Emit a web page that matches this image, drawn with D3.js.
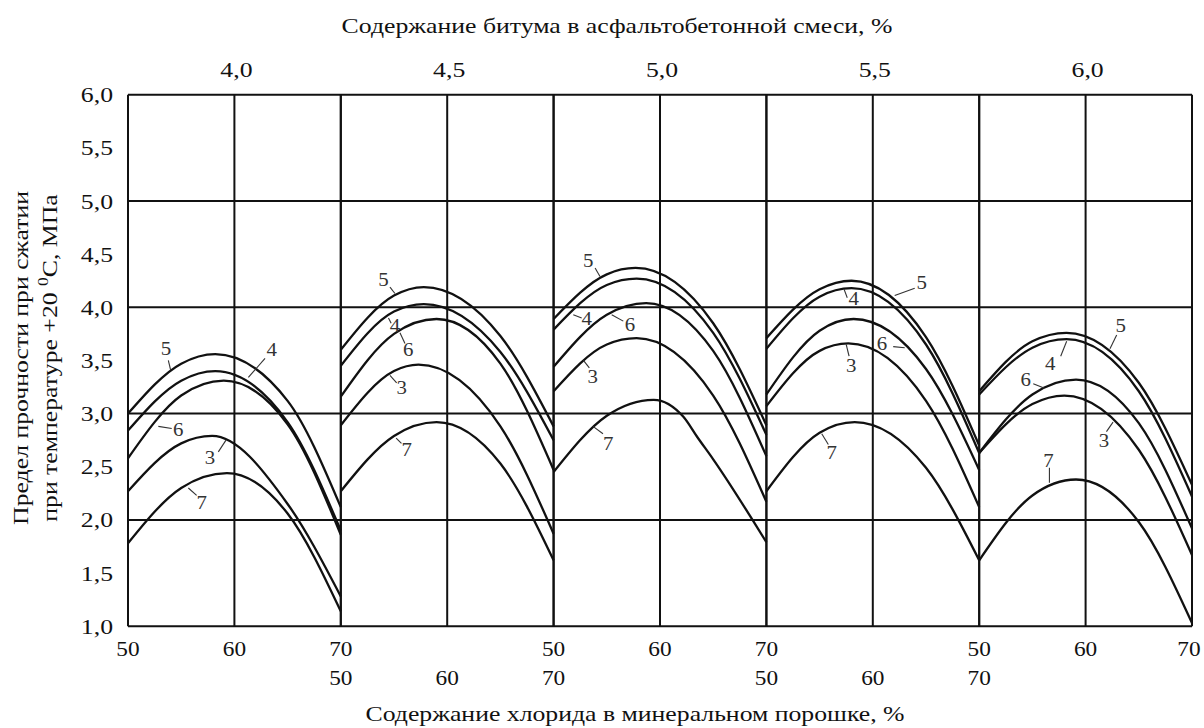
<!DOCTYPE html>
<html><head><meta charset="utf-8">
<script src="https://cdn.jsdelivr.net/npm/d3@7"></script>
<style>body{margin:0;background:#fff}svg{display:block}</style>
</head><body>
<svg id="chart" width="1204" height="728"></svg>
<script>
// ---------- data ----------
const bitumenLevels = ["4,0", "4,5", "5,0", "5,5", "6,0"];
const chlorideTicks = [50, 60, 70];
const strengthTicks = [1.0, 1.5, 2.0, 2.5, 3.0, 3.5, 4.0, 4.5, 5.0, 5.5, 6.0];
const strengthGrid = [1, 2, 3, 4, 5, 6];
const curveIds = ["5", "4", "6", "3", "7"];

// [chloride %, strength MPa]
const panel40 = {
  "5": [[50, 3.00], [55, 3.47], [58.2, 3.56], [65, 3.12], [70, 2.12]],
  "4": [[50, 2.84], [55, 3.31], [58.2, 3.40], [65, 2.92], [70, 1.90]],
  "6": [[50, 2.58], [55, 3.17], [59.0, 3.31], [65, 2.90], [70, 1.86]],
  "3": [[50, 2.27], [55, 2.72], [57.9, 2.79], [65, 2.15], [70, 1.28]],
  "7": [[50, 1.78], [55, 2.30], [59.3, 2.44], [65, 2.06], [70, 1.14]]
};
const panel45 = {
  "5": [[50, 3.60], [55, 4.11], [57.8, 4.19], [65, 3.73], [70, 2.88]],
  "4": [[50, 3.45], [55, 3.96], [57.8, 4.03], [65, 3.58], [70, 2.75]],
  "6": [[50, 3.16], [55, 3.75], [59.0, 3.89], [65, 3.47], [70, 2.47]],
  "3": [[50, 2.89], [55, 3.40], [57.3, 3.46], [65, 2.88], [70, 1.87]],
  "7": [[50, 2.27], [55, 2.79], [59.0, 2.92], [65, 2.53], [70, 1.62]]
};
const panel50 = {
  "5": [[50, 3.89], [55, 4.31], [57.7, 4.37], [65, 3.85], [70, 2.89]],
  "4": [[50, 3.79], [55, 4.21], [57.8, 4.27], [65, 3.76], [70, 2.80]],
  "6": [[50, 3.44], [55, 3.93], [58.7, 4.04], [65, 3.59], [70, 2.60]],
  "3": [[50, 3.21], [55, 3.65], [57.8, 3.71], [65, 3.17], [70, 2.17]],
  "7": [[50, 2.45], [55, 2.98], [59.4, 3.13], [62.2, 2.97], [63.5, 2.78], [65, 2.57], [70, 1.79]]
};
const panel55 = {
  "5": [[50, 3.71], [55, 4.17], [58.0, 4.25], [65, 3.72], [70, 2.70]],
  "4": [[50, 3.61], [55, 4.10], [58.0, 4.18], [65, 3.65], [70, 2.63]],
  "6": [[50, 3.18], [55, 3.78], [58.2, 3.89], [65, 3.42], [70, 2.47]],
  "3": [[50, 3.07], [55, 3.59], [57.7, 3.66], [65, 3.12], [70, 2.12]],
  "7": [[50, 2.27], [55, 2.82], [58.3, 2.92], [65, 2.49], [70, 1.62]]
};
const panel60 = {
  "5": [[50, 3.21], [55, 3.68], [58.2, 3.76], [65, 3.29], [70, 2.33]],
  "4": [[50, 3.18], [55, 3.62], [58.2, 3.70], [65, 3.21], [70, 2.22]],
  "6": [[50, 2.63], [55, 3.18], [59.1, 3.32], [65, 2.91], [70, 1.92]],
  "3": [[50, 2.63], [55, 3.09], [58.0, 3.17], [65, 2.66], [70, 1.67]],
  "7": [[50, 1.62], [55, 2.23], [59.1, 2.38], [65, 1.98], [70, 1.03]]
};
const panels = [panel40, panel45, panel50, panel55, panel60];

// curve labels: [panel, text, curveX, curveY, nearX, nearY, textX, textY] in data units
const curveLabels = [
  [0, "5", 54.01, 3.41, 53.79, 3.50, 53.57, 3.61],
  [0, "4", 61.31, 3.34, 62.88, 3.52, 63.51, 3.60],
  [0, "6", 52.85, 2.88, 54.11, 2.86, 54.73, 2.85],
  [0, "3", 59.21, 2.75, 58.49, 2.64, 57.71, 2.59],
  [0, "7", 55.67, 2.30, 56.45, 2.23, 56.93, 2.16],
  [1, "5", 55.09, 4.13, 54.62, 4.19, 54.00, 4.26],
  [1, "4", 54.48, 3.90, 54.73, 3.85, 55.09, 3.83],
  [1, "6", 55.56, 3.76, 56.03, 3.66, 56.34, 3.60],
  [1, "3", 54.62, 3.36, 55.25, 3.29, 55.72, 3.25],
  [1, "7", 55.20, 2.77, 55.70, 2.72, 56.20, 2.66],
  [2, "5", 54.36, 4.29, 53.90, 4.37, 53.26, 4.44],
  [2, "4", 51.85, 3.93, 52.64, 3.90, 53.11, 3.89],
  [2, "6", 55.46, 3.93, 56.55, 3.87, 57.18, 3.84],
  [2, "3", 52.80, 3.50, 53.36, 3.43, 53.67, 3.35],
  [2, "7", 53.70, 2.88, 54.64, 2.81, 55.14, 2.72],
  [3, "5", 62.06, 4.11, 63.94, 4.18, 64.60, 4.23],
  [3, "4", 57.30, 4.17, 57.60, 4.09, 58.21, 4.08],
  [3, "6", 63.00, 3.62, 61.92, 3.63, 60.87, 3.66],
  [3, "3", 57.50, 3.65, 57.77, 3.54, 57.97, 3.45],
  [3, "7", 55.20, 2.81, 55.82, 2.71, 56.14, 2.63],
  [4, "5", 62.29, 3.61, 62.92, 3.74, 63.30, 3.83],
  [4, "4", 58.22, 3.68, 57.66, 3.54, 56.68, 3.47],
  [4, "6", 56.09, 3.24, 55.08, 3.28, 54.37, 3.32],
  [4, "3", 62.58, 2.92, 61.96, 2.83, 61.73, 2.75],
  [4, "7", 56.60, 2.35, 56.60, 2.49, 56.50, 2.56]
];

const topTitle = "Содержание битума в асфальтобетонной смеси, %";
const bottomTitle = "Содержание хлорида в минеральном порошке, %";
const yTitle1 = "Предел прочности при сжатии";
const yTitle2a = "при температуре +20 ";
const yTitle2sup = "0";
const yTitle2b = "С, МПа";

// ---------- layout ----------
const svg = d3.select("#chart");
const font = "'Liberation Serif', 'Times New Roman', serif";
const ink = "#111";
const fs = 22, sx = 1.17;
const plotLeft = 128, plotRight = 1192, plotTop = 94.7, plotBottom = 626.2;

const panelBand = d3.scaleBand().domain(d3.range(bitumenLevels.length)).range([plotLeft, plotRight]).padding(0);
const xFor = p => d3.scaleLinear().domain([50, 70]).range([panelBand(p), panelBand(p) + panelBand.bandwidth()]);
const y = d3.scaleLinear().domain([1, 6]).range([plotBottom, plotTop]);
const fmt = v => d3.format(".1f")(v).replace(".", ",");

function label(parent, x, yy, str, anchor = "middle", size = fs, scale = sx) {
  return parent.append("text")
    .attr("transform", `translate(${x},${yy}) scale(${scale},1)`)
    .attr("text-anchor", anchor)
    .attr("font-family", font).attr("font-size", size).attr("fill", ink)
    .text(str);
}

// grid
const g = svg.append("g");
strengthGrid.forEach(v => {
  g.append("line").attr("x1", plotLeft).attr("x2", plotRight).attr("y1", y(v)).attr("y2", y(v))
    .attr("stroke", ink).attr("stroke-width", 2);
});
panels.forEach((_, p) => {
  const x = xFor(p);
  chlorideTicks.forEach(t => {
    g.append("line").attr("x1", x(t)).attr("x2", x(t)).attr("y1", plotTop).attr("y2", plotBottom)
      .attr("stroke", ink).attr("stroke-width", 2);
  });
});

// y tick labels
strengthTicks.forEach(v => label(svg, plotLeft - 15, y(v) + 7.5, fmt(v), "end"));

// top bitumen labels
bitumenLevels.forEach((b, p) => label(svg, xFor(p)(60) + 2, 77, b));

// bottom chloride labels (two rows, alternating panels)
panels.forEach((_, p) => {
  const x = xFor(p);
  const rowY = p % 2 === 0 ? 656 : 685;
  chlorideTicks.forEach(t => {
    const px = Math.min(x(t), plotRight - 3);
    label(svg, px, rowY, d3.format("d")(t), "middle", fs, 1.06);
  });
});

// titles
label(svg, 617, 33, topTitle);
label(svg, 635, 721, bottomTitle);

const yt = svg.append("g").attr("transform", "translate(0,358) rotate(-90)");
label(yt, 0, 28, yTitle1);
const t2 = label(yt, 0, 57, "");
t2.append("tspan").text(yTitle2a);
t2.append("tspan").attr("font-size", 15).attr("dy", -9).text(yTitle2sup);
t2.append("tspan").attr("dy", 9).text(yTitle2b);

// curves
const line = d3.line().curve(d3.curveMonotoneX);
panels.forEach((panel, p) => {
  const x = xFor(p);
  curveIds.forEach(id => {
    svg.append("path")
      .attr("d", line.x(d => x(d[0])).y(d => y(d[1]))(panel[id]))
      .attr("fill", "none").attr("stroke", ink).attr("stroke-width", 2.3);
  });
});

// curve labels with leader lines
curveLabels.forEach(([p, txt, cx, cy, nx, ny, tx, ty]) => {
  const x = xFor(p);
  svg.append("line").attr("x1", x(cx)).attr("y1", y(cy)).attr("x2", x(nx)).attr("y2", y(ny))
    .attr("stroke", "#333").attr("stroke-width", 1.1);
  label(svg, x(tx), y(ty) + 6.5, txt, "middle", 19, 1.1).attr("fill", "#333");
});
</script>
</body></html>
